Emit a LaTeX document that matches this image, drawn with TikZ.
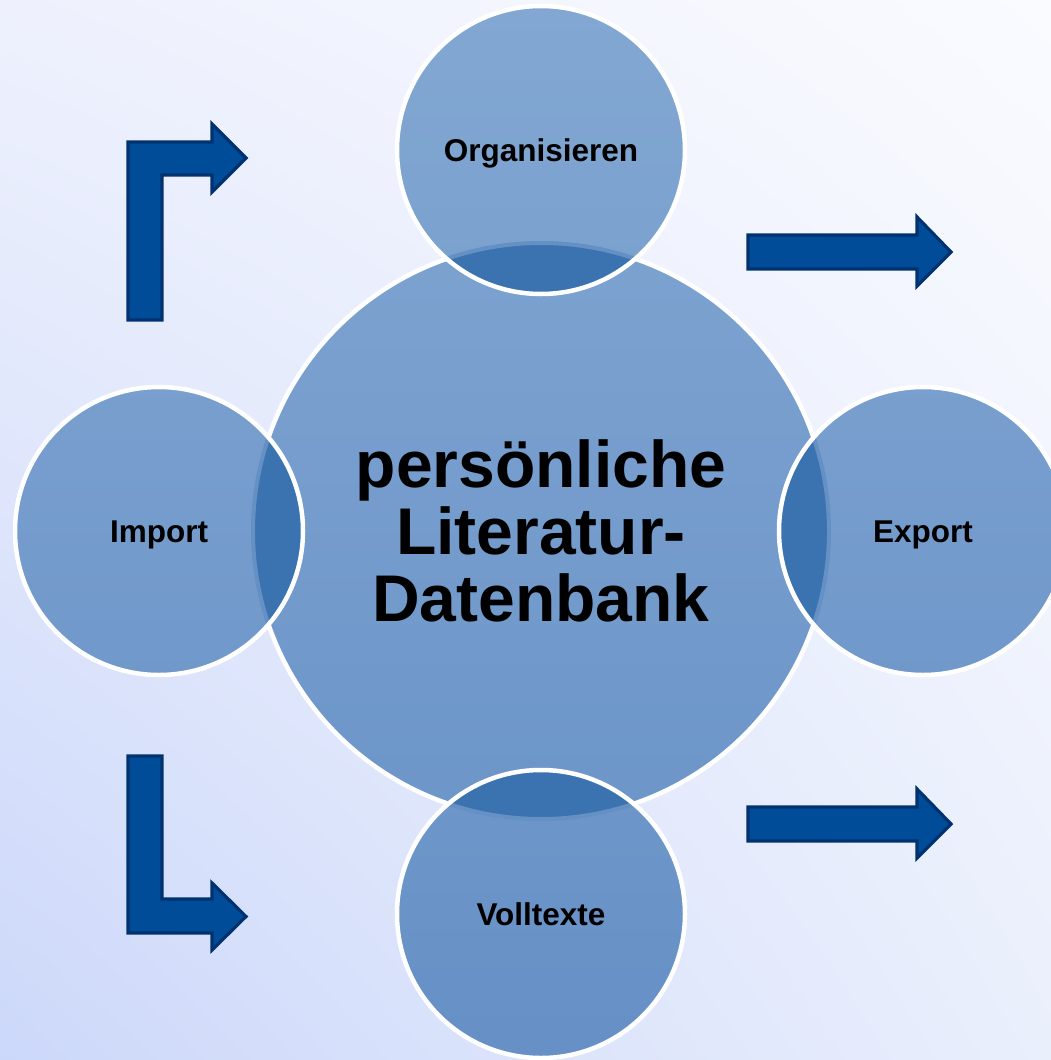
\documentclass[tikz,border=0pt]{standalone}
\usepackage{fontspec}
\setmainfont{Liberation Sans}
\usetikzlibrary{shadings}
\definecolor{bgUL}{HTML}{EEF1FD}
\definecolor{bgUR}{HTML}{FAFBFF}
\definecolor{bgLL}{HTML}{CCD8FA}
\definecolor{bgLR}{HTML}{EAEFFC}
\definecolor{ctop}{HTML}{82A7D2}
\definecolor{cbot}{HTML}{6690C6}
\definecolor{lens}{HTML}{3A73B0}
\definecolor{lensrim}{HTML}{6590C4}
\definecolor{arrfill}{HTML}{004C99}
\definecolor{arrline}{HTML}{00326F}
\tikzset{
  bigcirc/.style={circle, inner sep=0pt, minimum size=576pt, draw=white, line width=4.5pt,
    top color=cbot!23!ctop, bottom color=cbot!77!ctop, align=center,
    font=\fontsize{66}{67}\selectfont\bfseries},
  smallcirc/.style={circle, inner sep=0pt, minimum size=288pt, text height=22.5pt, text depth=0pt,
    font=\fontsize{31.5}{33}\selectfont\bfseries},
  ring/.style={draw=white, line width=4.5pt},
  blockarrow/.style={fill=arrfill, draw=arrline, line width=3.2pt, line join=miter}
}
\begin{document}
\begin{tikzpicture}[x=1pt,y=-1pt]
\useasboundingbox (0,0) rectangle (1051,1060);
\clip (0,0) rectangle (1051,1060);
\shade[upper left=bgUL, upper right=bgUR, lower left=bgLL, lower right=bgLR] (0,0) rectangle (1051,1060);

% arrows
\draw[blockarrow] (128,320) -- (128,142) -- (212,142) -- (212,124) -- (246,158) -- (212,192) -- (212,175) -- (162,175) -- (162,320) -- cycle;
\draw[blockarrow] (128,756) -- (162,756) -- (162,899) -- (212,899) -- (212,883) -- (246,916.5) -- (212,950) -- (212,933) -- (128,933) -- cycle;
\draw[blockarrow] (748,235) -- (917,235) -- (917,217) -- (951,252) -- (917,286) -- (917,269) -- (748,269) -- cycle;
\draw[blockarrow] (748,807) -- (917,807) -- (917,789) -- (951,824) -- (917,858) -- (917,841) -- (748,841) -- cycle;

% center
\node[bigcirc] (c) at (541,531) {pers\"onliche\\Literatur-\\Datenbank};

% satellites
\node[smallcirc, top color=cbot!0!ctop, bottom color=cbot!28!ctop] (t) at (541,150) {Organisieren};
\node[smallcirc, top color=cbot!36!ctop, bottom color=cbot!64!ctop] (l) at (159,531) {Import};
\node[smallcirc, top color=cbot!36!ctop, bottom color=cbot!64!ctop] (r) at (923,531) {Export};
\node[smallcirc, top color=cbot!72!ctop, bottom color=cbot!100!ctop] (b) at (541,914) {Volltexte};

% lenses
\foreach \n in {t,l,r,b}{
  \begin{scope}
    \clip (c.center) circle (288pt);
    \fill[lens] (\n.center) circle (144pt);
  \end{scope}
  \begin{scope}
    \clip (\n.center) circle (144pt);
    \draw[lensrim, line width=4pt] (c.center) circle (288pt);
  \end{scope}
}
\foreach \n in {t,l,r,b}{
  \draw[ring] (\n.center) circle (144pt);
}
\end{tikzpicture}
\end{document}
